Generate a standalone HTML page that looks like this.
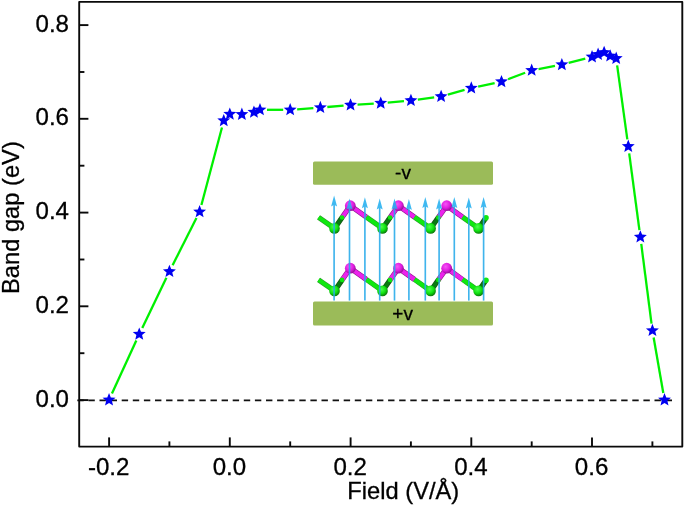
<!DOCTYPE html>
<html lang="en"><head><meta charset="utf-8"><title>Band gap vs Field</title>
<style>html,body{margin:0;padding:0;background:#fff;}body{width:685px;height:506px;overflow:hidden;}svg{display:block;}text{font-family:"Liberation Sans",Arial,sans-serif;fill:#000;}</style>
</head><body>
<svg width="685" height="506" viewBox="0 0 685 506">
<defs>
<radialGradient id="gG" cx="0.4" cy="0.35" r="0.7"><stop offset="0" stop-color="#4dff4d"/><stop offset="0.55" stop-color="#10e210"/><stop offset="1" stop-color="#0a6a0a"/></radialGradient>
<radialGradient id="gM" cx="0.4" cy="0.35" r="0.7"><stop offset="0" stop-color="#f655f6"/><stop offset="0.55" stop-color="#e01ce0"/><stop offset="1" stop-color="#8a0c8a"/></radialGradient>
</defs>
<rect width="685" height="506" fill="#fff"/>
<line x1="77.3" y1="400.3" x2="672.3" y2="400.3" stroke="#111" stroke-width="1.7" stroke-dasharray="6.4,4.7"/>
<g stroke="#0a0a0a" stroke-width="1.9" fill="none" stroke-linejoin="round">
<rect x="79.2" y="1.9" width="603.1" height="444.7"/>
</g>
<g stroke="#0a0a0a" stroke-width="1.9" fill="none">
<line x1="79.2" y1="400.1" x2="88.4" y2="400.1"/>
<line x1="79.2" y1="306.3" x2="88.4" y2="306.3"/>
<line x1="79.2" y1="212.6" x2="88.4" y2="212.6"/>
<line x1="79.2" y1="118.8" x2="88.4" y2="118.8"/>
<line x1="79.2" y1="25.1" x2="88.4" y2="25.1"/>
<line x1="79.2" y1="353.2" x2="84.4" y2="353.2"/>
<line x1="79.2" y1="259.5" x2="84.4" y2="259.5"/>
<line x1="79.2" y1="165.7" x2="84.4" y2="165.7"/>
<line x1="79.2" y1="72.0" x2="84.4" y2="72.0"/>
<line x1="109.1" y1="446.6" x2="109.1" y2="437.4"/>
<line x1="229.8" y1="446.6" x2="229.8" y2="437.4"/>
<line x1="350.6" y1="446.6" x2="350.6" y2="437.4"/>
<line x1="471.3" y1="446.6" x2="471.3" y2="437.4"/>
<line x1="592.0" y1="446.6" x2="592.0" y2="437.4"/>
<line x1="169.4" y1="446.6" x2="169.4" y2="441.4"/>
<line x1="290.2" y1="446.6" x2="290.2" y2="441.4"/>
<line x1="410.9" y1="446.6" x2="410.9" y2="441.4"/>
<line x1="531.7" y1="446.6" x2="531.7" y2="441.4"/>
<line x1="652.4" y1="446.6" x2="652.4" y2="441.4"/>
</g>
<g font-size="24.1px" stroke="#000" stroke-width="0.3">
<text x="69.0" y="406.7" text-anchor="end">0.0</text>
<text x="69.0" y="312.9" text-anchor="end">0.2</text>
<text x="69.0" y="219.2" text-anchor="end">0.4</text>
<text x="69.0" y="125.4" text-anchor="end">0.6</text>
<text x="69.0" y="31.7" text-anchor="end">0.8</text>
<text x="108.7" y="475.1" text-anchor="middle">-0.2</text>
<text x="229.4" y="475.1" text-anchor="middle">0.0</text>
<text x="350.2" y="475.1" text-anchor="middle">0.2</text>
<text x="470.9" y="475.1" text-anchor="middle">0.4</text>
<text x="591.6" y="475.1" text-anchor="middle">0.6</text>
<text x="403.3" y="499.2" font-size="23.7px" text-anchor="middle">Field (V/Å)</text>
<text transform="translate(19.3,217.6) rotate(-90)" font-size="23.7px" text-anchor="middle">Band gap (eV)</text>
</g>
<rect x="313" y="161.5" width="180" height="23.2" rx="1.5" fill="#9bbb59"/>
<rect x="313" y="301.4" width="180" height="24" rx="1.5" fill="#9bbb59"/>
<text x="403.0" y="179.3" font-size="19px" stroke="#000" stroke-width="0.3" text-anchor="middle">-v</text>
<text x="402.6" y="319.6" font-size="19px" stroke="#000" stroke-width="0.3" text-anchor="middle">+v</text>
<g>
<line x1="334.5" y1="228.4" x2="318.6" y2="217.4" stroke="#2a9a2a" stroke-width="5.2" stroke-linecap="butt"/>
<line x1="334.5" y1="228.4" x2="318.6" y2="217.4" stroke="#0fe80f" stroke-width="4.0" stroke-linecap="butt"/>
<line x1="342.4" y1="217.1" x2="350.3" y2="205.7" stroke="#8a1a8a" stroke-width="5.2" stroke-linecap="butt"/>
<line x1="342.4" y1="217.1" x2="350.3" y2="205.7" stroke="#ec22ec" stroke-width="4.0" stroke-linecap="butt"/>
<line x1="334.5" y1="228.4" x2="342.4" y2="217.1" stroke="#145214" stroke-width="5.2" stroke-linecap="butt"/>
<line x1="334.5" y1="228.4" x2="342.4" y2="217.1" stroke="#0a7a12" stroke-width="4.0" stroke-linecap="butt"/>
<circle cx="342.1" cy="217.5" r="2.3" fill="#0fe80f"/>
<line x1="350.3" y1="205.7" x2="366.4" y2="217.1" stroke="#8a1a8a" stroke-width="5.2" stroke-linecap="butt"/>
<line x1="350.3" y1="205.7" x2="366.4" y2="217.1" stroke="#ec22ec" stroke-width="4.0" stroke-linecap="butt"/>
<line x1="366.4" y1="217.1" x2="382.5" y2="228.4" stroke="#2a9a2a" stroke-width="5.2" stroke-linecap="butt"/>
<line x1="366.4" y1="217.1" x2="382.5" y2="228.4" stroke="#0fe80f" stroke-width="4.0" stroke-linecap="butt"/>
<line x1="390.4" y1="217.1" x2="398.4" y2="205.7" stroke="#8a1a8a" stroke-width="5.2" stroke-linecap="butt"/>
<line x1="390.4" y1="217.1" x2="398.4" y2="205.7" stroke="#ec22ec" stroke-width="4.0" stroke-linecap="butt"/>
<line x1="382.5" y1="228.4" x2="390.4" y2="217.1" stroke="#145214" stroke-width="5.2" stroke-linecap="butt"/>
<line x1="382.5" y1="228.4" x2="390.4" y2="217.1" stroke="#0a7a12" stroke-width="4.0" stroke-linecap="butt"/>
<circle cx="390.1" cy="217.5" r="2.3" fill="#0fe80f"/>
<line x1="398.4" y1="205.7" x2="414.5" y2="217.1" stroke="#8a1a8a" stroke-width="5.2" stroke-linecap="butt"/>
<line x1="398.4" y1="205.7" x2="414.5" y2="217.1" stroke="#ec22ec" stroke-width="4.0" stroke-linecap="butt"/>
<line x1="414.5" y1="217.1" x2="430.6" y2="228.4" stroke="#2a9a2a" stroke-width="5.2" stroke-linecap="butt"/>
<line x1="414.5" y1="217.1" x2="430.6" y2="228.4" stroke="#0fe80f" stroke-width="4.0" stroke-linecap="butt"/>
<line x1="438.6" y1="217.1" x2="446.7" y2="205.7" stroke="#8a1a8a" stroke-width="5.2" stroke-linecap="butt"/>
<line x1="438.6" y1="217.1" x2="446.7" y2="205.7" stroke="#ec22ec" stroke-width="4.0" stroke-linecap="butt"/>
<line x1="430.6" y1="228.4" x2="438.6" y2="217.1" stroke="#145214" stroke-width="5.2" stroke-linecap="butt"/>
<line x1="430.6" y1="228.4" x2="438.6" y2="217.1" stroke="#0a7a12" stroke-width="4.0" stroke-linecap="butt"/>
<circle cx="438.3" cy="217.5" r="2.3" fill="#0fe80f"/>
<line x1="446.7" y1="205.7" x2="462.6" y2="217.1" stroke="#8a1a8a" stroke-width="5.2" stroke-linecap="butt"/>
<line x1="446.7" y1="205.7" x2="462.6" y2="217.1" stroke="#ec22ec" stroke-width="4.0" stroke-linecap="butt"/>
<line x1="462.6" y1="217.1" x2="478.6" y2="228.4" stroke="#2a9a2a" stroke-width="5.2" stroke-linecap="butt"/>
<line x1="462.6" y1="217.1" x2="478.6" y2="228.4" stroke="#0fe80f" stroke-width="4.0" stroke-linecap="butt"/>
<line x1="478.6" y1="228.4" x2="485.4" y2="218.6" stroke="#145214" stroke-width="5.2" stroke-linecap="butt"/>
<line x1="478.6" y1="228.4" x2="485.4" y2="218.6" stroke="#0a7a12" stroke-width="4.0" stroke-linecap="butt"/>
<circle cx="486.0" cy="217.7" r="2.8" fill="#0fe80f"/>
<circle cx="334.5" cy="228.4" r="5.3" fill="url(#gG)"/>
<circle cx="382.5" cy="228.4" r="5.3" fill="url(#gG)"/>
<circle cx="430.6" cy="228.4" r="5.3" fill="url(#gG)"/>
<circle cx="478.6" cy="228.4" r="5.3" fill="url(#gG)"/>
<circle cx="350.3" cy="205.7" r="5.4" fill="url(#gM)"/>
<circle cx="398.4" cy="205.7" r="5.4" fill="url(#gM)"/>
<circle cx="446.7" cy="205.7" r="5.4" fill="url(#gM)"/>
<line x1="334.5" y1="290.9" x2="318.6" y2="279.9" stroke="#2a9a2a" stroke-width="5.2" stroke-linecap="butt"/>
<line x1="334.5" y1="290.9" x2="318.6" y2="279.9" stroke="#0fe80f" stroke-width="4.0" stroke-linecap="butt"/>
<line x1="342.4" y1="279.5" x2="350.3" y2="268.2" stroke="#8a1a8a" stroke-width="5.2" stroke-linecap="butt"/>
<line x1="342.4" y1="279.5" x2="350.3" y2="268.2" stroke="#ec22ec" stroke-width="4.0" stroke-linecap="butt"/>
<line x1="334.5" y1="290.9" x2="342.4" y2="279.5" stroke="#145214" stroke-width="5.2" stroke-linecap="butt"/>
<line x1="334.5" y1="290.9" x2="342.4" y2="279.5" stroke="#0a7a12" stroke-width="4.0" stroke-linecap="butt"/>
<circle cx="342.1" cy="279.9" r="2.3" fill="#0fe80f"/>
<line x1="350.3" y1="268.2" x2="366.4" y2="279.5" stroke="#8a1a8a" stroke-width="5.2" stroke-linecap="butt"/>
<line x1="350.3" y1="268.2" x2="366.4" y2="279.5" stroke="#ec22ec" stroke-width="4.0" stroke-linecap="butt"/>
<line x1="366.4" y1="279.5" x2="382.5" y2="290.9" stroke="#2a9a2a" stroke-width="5.2" stroke-linecap="butt"/>
<line x1="366.4" y1="279.5" x2="382.5" y2="290.9" stroke="#0fe80f" stroke-width="4.0" stroke-linecap="butt"/>
<line x1="390.4" y1="279.5" x2="398.4" y2="268.2" stroke="#8a1a8a" stroke-width="5.2" stroke-linecap="butt"/>
<line x1="390.4" y1="279.5" x2="398.4" y2="268.2" stroke="#ec22ec" stroke-width="4.0" stroke-linecap="butt"/>
<line x1="382.5" y1="290.9" x2="390.4" y2="279.5" stroke="#145214" stroke-width="5.2" stroke-linecap="butt"/>
<line x1="382.5" y1="290.9" x2="390.4" y2="279.5" stroke="#0a7a12" stroke-width="4.0" stroke-linecap="butt"/>
<circle cx="390.1" cy="279.9" r="2.3" fill="#0fe80f"/>
<line x1="398.4" y1="268.2" x2="414.5" y2="279.5" stroke="#8a1a8a" stroke-width="5.2" stroke-linecap="butt"/>
<line x1="398.4" y1="268.2" x2="414.5" y2="279.5" stroke="#ec22ec" stroke-width="4.0" stroke-linecap="butt"/>
<line x1="414.5" y1="279.5" x2="430.6" y2="290.9" stroke="#2a9a2a" stroke-width="5.2" stroke-linecap="butt"/>
<line x1="414.5" y1="279.5" x2="430.6" y2="290.9" stroke="#0fe80f" stroke-width="4.0" stroke-linecap="butt"/>
<line x1="438.6" y1="279.5" x2="446.7" y2="268.2" stroke="#8a1a8a" stroke-width="5.2" stroke-linecap="butt"/>
<line x1="438.6" y1="279.5" x2="446.7" y2="268.2" stroke="#ec22ec" stroke-width="4.0" stroke-linecap="butt"/>
<line x1="430.6" y1="290.9" x2="438.6" y2="279.5" stroke="#145214" stroke-width="5.2" stroke-linecap="butt"/>
<line x1="430.6" y1="290.9" x2="438.6" y2="279.5" stroke="#0a7a12" stroke-width="4.0" stroke-linecap="butt"/>
<circle cx="438.3" cy="279.9" r="2.3" fill="#0fe80f"/>
<line x1="446.7" y1="268.2" x2="462.6" y2="279.5" stroke="#8a1a8a" stroke-width="5.2" stroke-linecap="butt"/>
<line x1="446.7" y1="268.2" x2="462.6" y2="279.5" stroke="#ec22ec" stroke-width="4.0" stroke-linecap="butt"/>
<line x1="462.6" y1="279.5" x2="478.6" y2="290.9" stroke="#2a9a2a" stroke-width="5.2" stroke-linecap="butt"/>
<line x1="462.6" y1="279.5" x2="478.6" y2="290.9" stroke="#0fe80f" stroke-width="4.0" stroke-linecap="butt"/>
<line x1="478.6" y1="290.9" x2="485.4" y2="281.1" stroke="#145214" stroke-width="5.2" stroke-linecap="butt"/>
<line x1="478.6" y1="290.9" x2="485.4" y2="281.1" stroke="#0a7a12" stroke-width="4.0" stroke-linecap="butt"/>
<circle cx="486.0" cy="280.2" r="2.8" fill="#0fe80f"/>
<circle cx="334.5" cy="290.9" r="5.3" fill="url(#gG)"/>
<circle cx="382.5" cy="290.9" r="5.3" fill="url(#gG)"/>
<circle cx="430.6" cy="290.9" r="5.3" fill="url(#gG)"/>
<circle cx="478.6" cy="290.9" r="5.3" fill="url(#gG)"/>
<circle cx="350.3" cy="268.2" r="5.4" fill="url(#gM)"/>
<circle cx="398.4" cy="268.2" r="5.4" fill="url(#gM)"/>
<circle cx="446.7" cy="268.2" r="5.4" fill="url(#gM)"/>
</g>
<g stroke="#25aaea" stroke-width="1.65" fill="#25b0f0" opacity="0.88">
<line x1="334.1" y1="202.5" x2="334.1" y2="300.6"/>
<path d="M334.1 195.5 L337.1 206.5 L334.1 204.8 L331.1 206.5 Z" stroke="none"/>
<line x1="349.5" y1="205.5" x2="349.5" y2="300.6"/>
<path d="M349.5 198.5 L352.5 209.5 L349.5 207.8 L346.5 209.5 Z" stroke="none"/>
<line x1="364.9" y1="204.3" x2="364.9" y2="300.6"/>
<path d="M364.9 197.3 L367.9 208.3 L364.9 206.6 L361.9 208.3 Z" stroke="none"/>
<line x1="379.7" y1="205.5" x2="379.7" y2="300.6"/>
<path d="M379.7 198.5 L382.7 209.5 L379.7 207.8 L376.7 209.5 Z" stroke="none"/>
<line x1="394.5" y1="205.5" x2="394.5" y2="300.6"/>
<path d="M394.5 198.5 L397.5 209.5 L394.5 207.8 L391.5 209.5 Z" stroke="none"/>
<line x1="408.9" y1="206.0" x2="408.9" y2="300.6"/>
<path d="M408.9 199.0 L411.9 210.0 L408.9 208.3 L405.9 210.0 Z" stroke="none"/>
<line x1="425.3" y1="204.0" x2="425.3" y2="300.6"/>
<path d="M425.3 197.0 L428.3 208.0 L425.3 206.3 L422.3 208.0 Z" stroke="none"/>
<line x1="439.1" y1="205.5" x2="439.1" y2="300.6"/>
<path d="M439.1 198.5 L442.1 209.5 L439.1 207.8 L436.1 209.5 Z" stroke="none"/>
<line x1="454.3" y1="204.0" x2="454.3" y2="300.6"/>
<path d="M454.3 197.0 L457.3 208.0 L454.3 206.3 L451.3 208.0 Z" stroke="none"/>
<line x1="468.8" y1="204.5" x2="468.8" y2="300.6"/>
<path d="M468.8 197.5 L471.8 208.5 L468.8 206.8 L465.8 208.5 Z" stroke="none"/>
<line x1="483.6" y1="204.0" x2="483.6" y2="300.6"/>
<path d="M483.6 197.0 L486.6 208.0 L483.6 206.3 L480.6 208.0 Z" stroke="none"/>
</g>
<g stroke="#00f000" stroke-width="2.3" fill="none">
<line x1="111.97" y1="393.54" x2="136.31" y2="340.56"/>
<line x1="142.27" y1="327.89" x2="166.39" y2="277.81"/>
<line x1="172.58" y1="265.25" x2="196.45" y2="218.05"/>
<line x1="201.41" y1="205.03" x2="221.97" y2="127.47"/>
<line x1="266.99" y1="109.80" x2="283.18" y2="109.80"/>
<line x1="297.16" y1="109.29" x2="313.38" y2="108.11"/>
<line x1="327.34" y1="107.00" x2="343.58" y2="105.60"/>
<line x1="357.54" y1="104.58" x2="373.75" y2="103.62"/>
<line x1="387.71" y1="102.58" x2="403.95" y2="101.12"/>
<line x1="417.86" y1="99.58" x2="434.17" y2="97.42"/>
<line x1="447.86" y1="94.62" x2="464.56" y2="89.98"/>
<line x1="478.15" y1="86.65" x2="494.64" y2="83.15"/>
<line x1="508.04" y1="79.23" x2="525.13" y2="72.77"/>
<line x1="538.56" y1="69.02" x2="554.98" y2="65.98"/>
<line x1="568.64" y1="62.95" x2="585.27" y2="58.65"/>
<line x1="617.15" y1="65.34" x2="627.32" y2="139.46"/>
<line x1="629.20" y1="153.34" x2="639.43" y2="230.06"/>
<line x1="641.25" y1="243.94" x2="651.53" y2="323.66"/>
<line x1="653.63" y1="337.50" x2="663.30" y2="393.00"/>
</g>
<g fill="#0000f0" stroke="none">
<polygon points="109.05,393.10 110.81,397.48 115.52,397.80 111.90,400.82 113.05,405.40 109.05,402.89 105.05,405.40 106.20,400.82 102.58,397.80 107.29,397.48"/>
<polygon points="139.24,327.40 141.00,331.78 145.70,332.10 142.08,335.12 143.23,339.70 139.24,337.19 135.24,339.70 136.39,335.12 132.77,332.10 137.48,331.78"/>
<polygon points="169.43,264.70 171.18,269.08 175.89,269.40 172.27,272.42 173.42,277.00 169.43,274.49 165.43,277.00 166.58,272.42 162.96,269.40 167.67,269.08"/>
<polygon points="199.61,205.00 201.37,209.38 206.08,209.70 202.46,212.72 203.61,217.30 199.61,214.79 195.62,217.30 196.77,212.72 193.15,209.70 197.85,209.38"/>
<polygon points="223.76,113.90 225.52,118.28 230.23,118.60 226.61,121.62 227.76,126.20 223.76,123.69 219.77,126.20 220.92,121.62 217.30,118.60 222.00,118.28"/>
<polygon points="229.80,107.40 231.56,111.78 236.27,112.10 232.65,115.12 233.80,119.70 229.80,117.19 225.80,119.70 226.95,115.12 223.33,112.10 228.04,111.78"/>
<polygon points="241.88,107.60 243.63,111.98 248.34,112.30 244.72,115.32 245.87,119.90 241.88,117.39 237.88,119.90 239.03,115.32 235.41,112.30 240.12,111.98"/>
<polygon points="253.95,105.40 255.71,109.78 260.42,110.10 256.80,113.12 257.95,117.70 253.95,115.19 249.95,117.70 251.10,113.12 247.48,110.10 252.19,109.78"/>
<polygon points="259.99,103.00 261.75,107.38 266.45,107.70 262.83,110.72 263.98,115.30 259.99,112.79 255.99,115.30 257.14,110.72 253.52,107.70 258.23,107.38"/>
<polygon points="290.18,103.00 291.93,107.38 296.64,107.70 293.02,110.72 294.17,115.30 290.18,112.79 286.18,115.30 287.33,110.72 283.71,107.70 288.42,107.38"/>
<polygon points="320.36,100.80 322.12,105.18 326.83,105.50 323.21,108.52 324.36,113.10 320.36,110.59 316.37,113.10 317.52,108.52 313.90,105.50 318.60,105.18"/>
<polygon points="350.55,98.20 352.31,102.58 357.02,102.90 353.40,105.92 354.55,110.50 350.55,107.99 346.55,110.50 347.70,105.92 344.08,102.90 348.79,102.58"/>
<polygon points="380.74,96.40 382.50,100.78 387.20,101.10 383.58,104.12 384.73,108.70 380.74,106.19 376.74,108.70 377.89,104.12 374.27,101.10 378.98,100.78"/>
<polygon points="410.93,93.70 412.68,98.08 417.39,98.40 413.77,101.42 414.92,106.00 410.93,103.49 406.93,106.00 408.08,101.42 404.46,98.40 409.17,98.08"/>
<polygon points="441.11,89.70 442.87,94.08 447.58,94.40 443.96,97.42 445.11,102.00 441.11,99.49 437.12,102.00 438.27,97.42 434.65,94.40 439.35,94.08"/>
<polygon points="471.30,81.30 473.06,85.68 477.77,86.00 474.15,89.02 475.30,93.60 471.30,91.09 467.30,93.60 468.45,89.02 464.83,86.00 469.54,85.68"/>
<polygon points="501.49,74.90 503.25,79.28 507.95,79.60 504.33,82.62 505.48,87.20 501.49,84.69 497.49,87.20 498.64,82.62 495.02,79.60 499.73,79.28"/>
<polygon points="531.67,63.50 533.43,67.88 538.14,68.20 534.52,71.22 535.67,75.80 531.67,73.29 527.68,75.80 528.83,71.22 525.21,68.20 529.92,67.88"/>
<polygon points="561.86,57.90 563.62,62.28 568.33,62.60 564.71,65.62 565.86,70.20 561.86,67.69 557.87,70.20 559.02,65.62 555.40,62.60 560.10,62.28"/>
<polygon points="592.05,50.10 593.81,54.48 598.52,54.80 594.90,57.82 596.05,62.40 592.05,59.89 588.05,62.40 589.20,57.82 585.58,54.80 590.29,54.48"/>
<polygon points="598.09,47.60 599.85,51.98 604.55,52.30 600.93,55.32 602.08,59.90 598.09,57.39 594.09,59.90 595.24,55.32 591.62,52.30 596.33,51.98"/>
<polygon points="604.12,45.70 605.88,50.08 610.59,50.40 606.97,53.42 608.12,58.00 604.12,55.49 600.13,58.00 601.28,53.42 597.66,50.40 602.37,50.08"/>
<polygon points="610.16,49.20 611.92,53.58 616.63,53.90 613.01,56.92 614.16,61.50 610.16,58.99 606.17,61.50 607.32,56.92 603.70,53.90 608.40,53.58"/>
<polygon points="616.20,51.60 617.96,55.98 622.67,56.30 619.05,59.32 620.20,63.90 616.20,61.39 612.20,63.90 613.35,59.32 609.73,56.30 614.44,55.98"/>
<polygon points="628.28,139.60 630.03,143.98 634.74,144.30 631.12,147.32 632.27,151.90 628.28,149.39 624.28,151.90 625.43,147.32 621.81,144.30 626.52,143.98"/>
<polygon points="640.35,230.20 642.11,234.58 646.82,234.90 643.20,237.92 644.35,242.50 640.35,239.99 636.35,242.50 637.50,237.92 633.88,234.90 638.59,234.58"/>
<polygon points="652.42,323.80 654.18,328.18 658.89,328.50 655.27,331.52 656.42,336.10 652.42,333.59 648.43,336.10 649.58,331.52 645.96,328.50 650.67,328.18"/>
<polygon points="664.50,393.10 666.26,397.48 670.97,397.80 667.35,400.82 668.50,405.40 664.50,402.89 660.50,405.40 661.65,400.82 658.03,397.80 662.74,397.48"/>
</g>
</svg>
</body></html>
